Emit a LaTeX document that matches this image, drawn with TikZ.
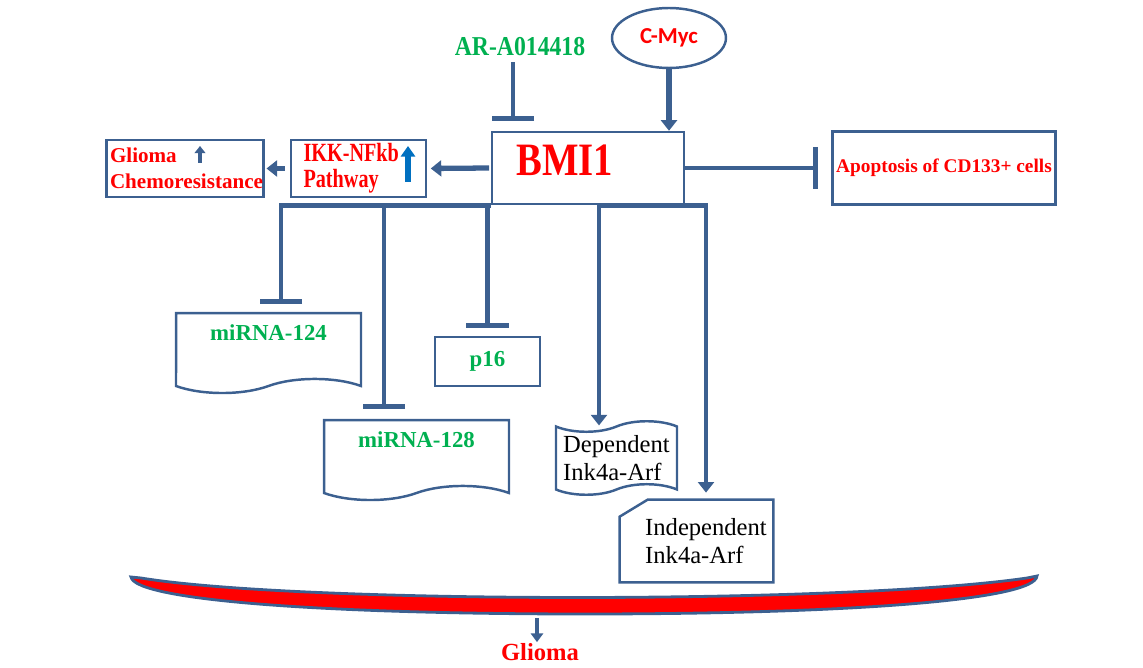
\documentclass[tikz,border=0pt]{standalone}
\usepackage{fontspec}
\setmainfont{Liberation Serif}
\newfontfamily\calibri{Carlito}
\usetikzlibrary{arrows.meta,shapes.geometric,shapes.symbols}
\definecolor{lineblue}{HTML}{3C6090}
\definecolor{mygreen}{HTML}{00B050}
\definecolor{upblue}{HTML}{0070C0}

\begin{document}
\begin{tikzpicture}[x=0.02cm,y=-0.02cm,
  box/.style={draw=lineblue,line width=1.4pt,inner sep=2pt},
  redtxt/.style={text=red,font=\bfseries\fontsize{12}{15}\selectfont},
  greentxt/.style={text=mygreen,font=\bfseries\fontsize{13}{15}\selectfont},
  blacktxt/.style={font=\fontsize{14}{16}\selectfont,align=left},
  link/.style={draw=lineblue,line width=3pt,-{Triangle[width=9pt,length=6pt]}},
  block/.style={draw=lineblue,line width=2.8pt,-{Bar[width=24pt,line width=2.8pt]}}]
  \useasboundingbox (0,0) rectangle (1143,668);
  \node[box,minimum width=3.84cm,minimum height=1.44cm] (bmi) at (588,168) {};
  \node[redtxt,font=\bfseries\fontsize{22}{24}\selectfont] (bmitxt) at (565,160) {\scalebox{1}[1.2]{BMI1}};
  \node[ellipse,box,minimum width=2.28cm,minimum height=1.2cm,text=red,
    font=\calibri\bfseries\fontsize{13}{15}\selectfont] (cmyc) at (669,38) {C-Myc};
  \node[greentxt,font=\bfseries\fontsize{13.5}{16}\selectfont] (ar) at (520,47) {\scalebox{1}[1.15]{AR-A014418}};
  \node[box,redtxt,font=\bfseries\fontsize{11}{13}\selectfont,minimum width=4.32cm,
    minimum height=1.46cm] (apop) at (944,168) {Apoptosis of CD133+ cells};
  \node[box,redtxt,font=\bfseries\fontsize{11.5}{15}\selectfont,align=left,text width=2.2cm,
    minimum width=2.7cm,minimum height=1.14cm] (ikk) at (358.5,168.5)
    {\scalebox{1}[1.3]{IKK-NFkb}\\\scalebox{1}[1.3]{Pathway}};
  \node[box,redtxt,align=left,text width=3.0cm,minimum width=3.08cm,
    minimum height=1.14cm] (chemo) at (185,168.5) {Glioma\\Chemoresistance};
  \node[tape,tape bend top=none,tape bend height=8pt,box,greentxt,align=center,
    minimum width=3.7cm,minimum height=1.6cm] (mir124) at (268.5,346) {miRNA-124\\\mbox{}};
  \node[tape,tape bend top=none,tape bend height=8pt,box,greentxt,align=center,
    minimum width=3.7cm,minimum height=1.6cm] (mir128) at (416.5,453) {miRNA-128\\\mbox{}};
  \node[box,greentxt,minimum width=2.1cm,minimum height=0.98cm] (p16) at (487.5,361.5) {p16};
  \node[tape,tape bend height=6pt,box,blacktxt,minimum width=2.42cm,
    minimum height=1.26cm] (dep) at (616.5,458) {Dependent\\Ink4a-Arf};
  \node[blacktxt,minimum width=3.06cm,minimum height=1.64cm] (indep) at (706,541) {Independent\\Ink4a-Arf};
  \draw[draw=lineblue,line width=1.4pt] ([xshift=-0.19cm,yshift=-0.34cm]indep.north west)
    -- ([xshift=0.37cm]indep.north west) -- ([xshift=-0.19cm]indep.north east)
    -- ([xshift=-0.19cm]indep.south east) -- ([xshift=-0.19cm]indep.south west) -- cycle;
  \node[redtxt,font=\bfseries\fontsize{14}{16}\selectfont,inner sep=0.5pt] (glioma) at (540,652) {Glioma};

  \draw[upblue,line width=3.6pt,-{Triangle[width=8pt,length=6pt]}] (408,182) -- (408,146);
  \draw[lineblue,line width=2.4pt,-{Triangle[width=6pt,length=4pt]}] (200,163) -- (200,146);

  \draw[block] (ar.south -| 513,0) -- ([yshift=5.7pt]bmi.north -| 513,0);
  \draw[link] (cmyc.south) -- (cmyc.south |- bmi.north);
  \draw[link,shorten <=1pt,shorten >=2pt] (bmi.west) -- (ikk.east);
  \draw[link,line width=2.6pt,shorten <=3pt,shorten >=1pt] (ikk.west) -- (chemo.east);
  \draw[block,shorten >=7.5pt] (bmi.east) -- (apop.west);
  \draw[block] (bmi.south west) -| ([xshift=0.25cm,yshift=4.5pt]mir124.north);
  \draw[block] ([xshift=-0.65cm]mir128.north |- bmi.south) -- ([xshift=-0.65cm,yshift=5.7pt]mir128.north);
  \draw[block] (p16.north |- bmi.south) -- ([yshift=4.5pt]p16.north);
  \draw[link,line width=2.6pt] ([xshift=-0.35cm]dep.north |- bmi.south) -- ([xshift=-0.35cm]dep.north);
  \draw[link,line width=2.6pt] ([xshift=-0.35cm]dep.north |- bmi.south) -| ([yshift=4pt]indep.north);

  \draw[draw=lineblue,line width=1.6pt,fill=red] (131,577) -- (141,578)
    .. controls (300,604) and (850,604) .. (1027,578) -- (1037,576)
    .. controls (1035,600) and (850,614) .. (585,614)
    .. controls (320,614) and (135,600) .. (131,577) -- cycle;
  \coordinate (band) at (537,618);
  \draw[link,line width=2.2pt,-{Triangle[width=7pt,length=5pt]}] (band) -- (band |- glioma.north);
\end{tikzpicture}
\end{document}
